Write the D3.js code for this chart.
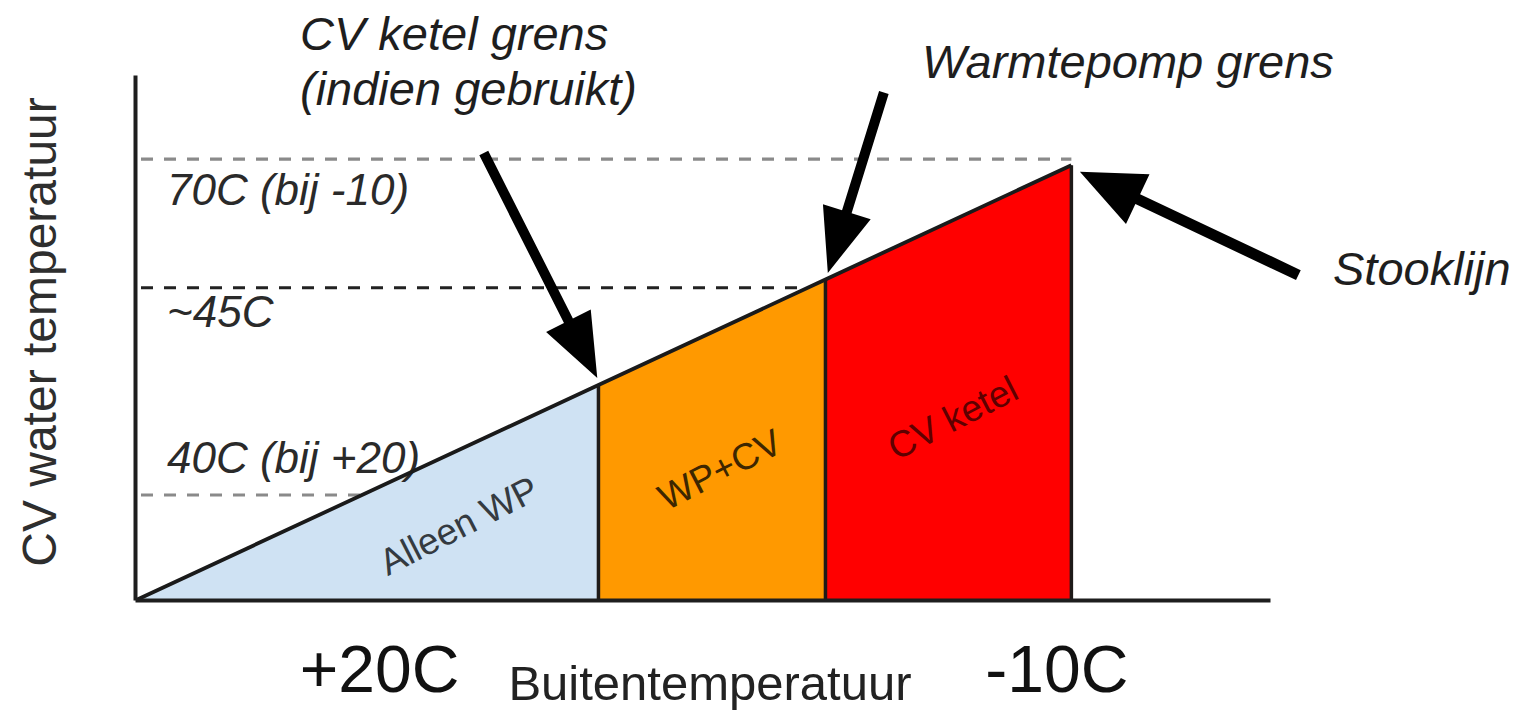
<!DOCTYPE html>
<html>
<head>
<meta charset="utf-8">
<script src="https://cdn.jsdelivr.net/npm/d3@7"></script>
<style>
  html, body { margin: 0; padding: 0; background: #fff; }
  svg { display: block; }
  text { font-family: "Liberation Sans", Arial, Helvetica, sans-serif; }
</style>
</head>
<body>
<svg id="chart" width="1524" height="714"></svg>
<script>
// ---------------- DATA ----------------
// Stooklijn (heating curve): outdoor temperature vs CV water temperature,
// read at the zone boundaries
const outdoorTemp = [29.5, 10, 0.4, -10];
const waterTemp   = [30.5, 50, 59.6, 70];
// Zones between consecutive boundaries
const zoneNames = ["Alleen WP", "WP+CV", "CV ketel"];
// Reference levels (dashed lines)
const levelValues = [70.55, 58.85, 40];
const levelLabels = ["70C (bij -10)", "~45C", "40C (bij +20)"];
// Axis extents and tick labels
const xDomain = [29.6, -18.4];
const yDomain = [30.45, 78.2];
const xTickValues = [20, -10];
const xTickLabels = ["+20C", "-10C"];
const xAxisTitle = "Buitentemperatuur";
const yAxisTitle = "CV water temperatuur";

// ---------------- STYLE ----------------
const zoneFill = ["#cfe2f3", "#ff9900", "#ff0000"];
const zoneText = ["#343a40", "#3d2600", "#5e0000"];
const levelStroke = ["#8a8a8a", "#222222", "#8a8a8a"];

const svg = d3.select("#chart");
const x = d3.scaleLinear().domain(xDomain).range([135, 1270]);
const y = d3.scaleLinear().domain(yDomain).range([600, 75]);

const pts = outdoorTemp.map((t, i) => ({ t, w: waterTemp[i] }));

// Zones
const zones = zoneNames.map((name, i) => ({ name, a: pts[i], b: pts[i + 1], i }));
svg.append("g").selectAll("path").data(zones).join("path")
  .attr("d", d => {
    const y0 = y(yDomain[0]);
    return `M${x(d.a.t)},${y0}L${x(d.a.t)},${y(d.a.w)}L${x(d.b.t)},${y(d.b.w)}L${x(d.b.t)},${y0}Z`;
  })
  .attr("fill", d => zoneFill[d.i]);

// Vertical zone boundaries
svg.append("g").selectAll("line").data(pts.slice(1)).join("line")
  .attr("x1", d => x(d.t)).attr("x2", d => x(d.t))
  .attr("y1", y(yDomain[0])).attr("y2", d => y(d.w))
  .attr("stroke", "#1e1a18").attr("stroke-width", 3.5);

// Dashed reference levels
svg.append("g").selectAll("line").data(levelValues).join("line")
  .attr("x1", x(xDomain[0]) + 6)
  .attr("x2", (v) => {
    const tInt = pts[0].t + (v - pts[0].w) * (pts[pts.length - 1].t - pts[0].t) / (pts[pts.length - 1].w - pts[0].w);
    return x(Math.max(tInt, pts[pts.length - 1].t));
  })
  .attr("y1", v => y(v)).attr("y2", v => y(v))
  .attr("stroke", (v, i) => levelStroke[i])
  .attr("stroke-width", 3.2)
  .attr("stroke-dasharray", "12,11");

const levelDy = [46, 39, -22];
svg.append("g").selectAll("text").data(levelValues).join("text")
  .attr("x", 167)
  .attr("y", (v, i) => y(v) + levelDy[i])
  .attr("font-size", 44)
  .attr("font-style", "italic")
  .attr("fill", "#2a2a2a")
  .text((v, i) => levelLabels[i]);

// Stooklijn
svg.append("path")
  .datum(pts)
  .attr("d", d3.line().x(d => x(d.t)).y(d => y(d.w)))
  .attr("fill", "none")
  .attr("stroke", "#1a1a1a")
  .attr("stroke-width", 3.8);

// Axes
const yAxis = svg.append("g").attr("transform", `translate(${x(xDomain[0])},0)`)
  .call(d3.axisLeft(y).tickValues([]).tickSizeOuter(0));
yAxis.select(".domain").attr("stroke", "#1e1e1e").attr("stroke-width", 4);

const xAxis = svg.append("g").attr("transform", `translate(0,${y(yDomain[0])})`)
  .call(d3.axisBottom(x).tickValues(xTickValues).tickFormat((d, i) => xTickLabels[i]).tickSize(0).tickSizeOuter(0));
xAxis.select(".domain").attr("stroke", "#1e1e1e").attr("stroke-width", 4);
const tickDx = [17, -15];
xAxis.selectAll(".tick text")
  .attr("y", 92).attr("dy", 0)
  .attr("dx", (d, i) => tickDx[i])
  .attr("font-size", 66)
  .attr("font-family", "'Liberation Sans', Arial, sans-serif")
  .attr("fill", "#111");

svg.append("text")
  .attr("x", 710).attr("y", 700)
  .attr("text-anchor", "middle")
  .attr("font-size", 49)
  .attr("fill", "#222")
  .text(xAxisTitle);

svg.append("text")
  .attr("transform", "translate(56,332) rotate(-90)")
  .attr("text-anchor", "middle")
  .attr("font-size", 48)
  .attr("fill", "#2e2e2e")
  .text(yAxisTitle);

// Zone labels (positioned in data units)
const zoneLabelPos = [[15.9, 37.2], [4.86, 42.3], [-4.99, 47.0]];
svg.append("g").selectAll("text").data(zones).join("text")
  .attr("transform", d => `translate(${x(zoneLabelPos[d.i][0])},${y(zoneLabelPos[d.i][1])}) rotate(-27)`)
  .attr("text-anchor", "middle")
  .attr("dominant-baseline", "central")
  .attr("font-size", 37)
  .attr("fill", d => zoneText[d.i])
  .text(d => d.name);

// Annotation arrows (tail and tip in data units)
const arrows = [
  { from: [14.85, 71.1], to: [10.05, 50.65], shaft: 10, headL: 64, headW: 50 },
  { from: [-2.07, 76.6], to: [0.3, 60.2], shaft: 10, headL: 64, headW: 50 },
  { from: [-19.6, 60.0], to: [-10.36, 69.4], shaft: 11, headL: 64, headW: 55 }
];
function arrowPath(a) {
  const x1 = x(a.from[0]), y1 = y(a.from[1]), x2 = x(a.to[0]), y2 = y(a.to[1]);
  const dx = x2 - x1, dy = y2 - y1, L = Math.hypot(dx, dy);
  const ux = dx / L, uy = dy / L, nx = -uy, ny = ux;
  const bx = x2 - ux * a.headL, by = y2 - uy * a.headL;
  const s = a.shaft / 2, h = a.headW / 2;
  const p = [
    [x1 + nx * s, y1 + ny * s], [bx + nx * s, by + ny * s], [bx + nx * h, by + ny * h],
    [x2, y2],
    [bx - nx * h, by - ny * h], [bx - nx * s, by - ny * s], [x1 - nx * s, y1 - ny * s]
  ];
  return "M" + p.map(q => q.join(",")).join("L") + "Z";
}
svg.append("g").selectAll("path").data(arrows).join("path")
  .attr("d", arrowPath)
  .attr("fill", "#000");

// Annotation texts
const notes = [
  { text: "CV ketel grens", x: 300, y: 50 },
  { text: "(indien gebruikt)", x: 300, y: 105 },
  { text: "Warmtepomp grens", x: 922, y: 78 },
  { text: "Stooklijn", x: 1333, y: 285 }
];
svg.append("g").selectAll("text").data(notes).join("text")
  .attr("x", d => d.x).attr("y", d => d.y)
  .attr("font-size", 47)
  .attr("font-style", "italic")
  .attr("fill", "#1e1e1e")
  .text(d => d.text);
</script>
</body>
</html>
